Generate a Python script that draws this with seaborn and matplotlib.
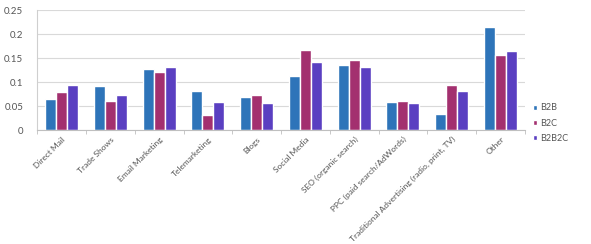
import numpy as np
import pandas as pd
import seaborn as sb
import matplotlib as mpl
import matplotlib.pyplot as plt

channels = ['Direct Mail', 'Trade Shows', 'Email Marketing', 'Telemarketing', 'Blogs',
            'Social Media', 'SEO (organic search)', 'PPC (paid search/AdWords)',
            'Traditional Advertising (radio, print, TV)', 'Other']
b2b   = [0.064, 0.091, 0.128, 0.082, 0.069, 0.113, 0.136, 0.058, 0.033, 0.214]
b2c   = [0.080, 0.061, 0.120, 0.031, 0.073, 0.167, 0.145, 0.060, 0.093, 0.156]
b2b2c = [0.094, 0.072, 0.131, 0.058, 0.056, 0.141, 0.131, 0.057, 0.081, 0.164]
segments = ['B2B', 'B2C', 'B2B2C']
colors = ['#2e74b9', '#a3306f', '#5a3fc1']

Df = pd.DataFrame({'channel': channels * 3,
                   'segment': np.repeat(segments, len(channels)),
                   'share': b2b + b2c + b2b2c})

sb.set_style('white')
mpl.rcParams['font.family'] = ['Lato', 'DejaVu Sans']
txt_col = '#555555'

fig = plt.figure(figsize=(5.91, 2.44), dpi=100)
ax = fig.add_axes([0.063, 0.467, 0.825, 0.492])

sb.barplot(data=Df, x='channel', y='share', hue='segment', palette=colors,
           width=0.68, gap=0, saturation=1, ax=ax, legend=True)

ax.set_ylim(0, 0.25)
ax.set_yticks([0, 0.05, 0.1, 0.15, 0.2, 0.25])
ax.set_yticklabels(['0', '0.05', '0.1', '0.15', '0.2', '0.25'])
ax.set_xlim(-0.5, len(channels) - 0.5)
ax.yaxis.grid(True, color='#d9d9d9', linewidth=0.8)
ax.set_axisbelow(True)
ax.set_xlabel('')
ax.set_ylabel('')

for side in ['top', 'right']:
    ax.spines[side].set_visible(False)
ax.spines['left'].set_color('#cfcfcf')
ax.spines['bottom'].set_color('#bfbfbf')

# category separators below the axis
ax.set_xticks(np.arange(len(channels)))
ax.set_xticklabels(channels, rotation=45, ha='right', rotation_mode='anchor',
                   fontsize=6, color=txt_col)
ax.set_xticks(np.arange(-0.5, len(channels)), minor=True)
ax.tick_params(axis='x', which='major', length=0, pad=4)
ax.tick_params(axis='x', which='minor', length=3, color='#bfbfbf', bottom=True)
ax.tick_params(axis='y', labelsize=7, colors=txt_col, length=0, pad=10)

leg = ax.legend(loc='upper left', bbox_to_anchor=(1.0, 0.29), frameon=False,
                fontsize=6.5, handlelength=0.5, handleheight=0.5,
                handletextpad=0.3, labelspacing=0.7)
for t in leg.get_texts():
    t.set_color(txt_col)

fig.savefig('out.png', dpi=100)
